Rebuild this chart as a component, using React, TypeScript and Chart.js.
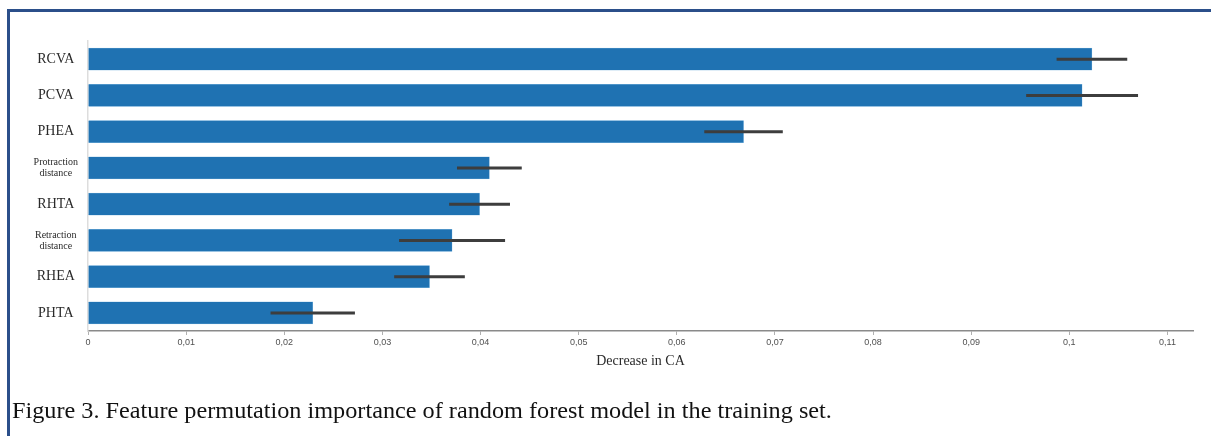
import React, { useEffect, useRef } from "react";
import { Chart, registerables } from "chart.js";

Chart.register(...registerables);

const categories: (string | string[])[] = [
  "RCVA",
  "PCVA",
  "PHEA",
  ["Protraction", "distance"],
  "RHTA",
  ["Retraction", "distance"],
  "RHEA",
  "PHTA",
];
const importance = [0.1023, 0.1013, 0.0668, 0.0409, 0.0399, 0.0371, 0.0348, 0.0229];
const importanceStd = [0.0036, 0.0057, 0.0040, 0.0033, 0.0031, 0.0054, 0.0036, 0.0043];
const xTickStep = 0.01;
const xMax = 0.1126;
const axisTitle = "Decrease in CA";
const caption = "Figure 3. Feature permutation importance of random forest model in the training set.";

const errorBarPlugin = {
  id: "errorBars",
  afterDatasetsDraw(chart: any) {
    const meta = chart.getDatasetMeta(0);
    const xScale = chart.scales.x;
    const ctx = chart.ctx;
    ctx.save();
    ctx.strokeStyle = "#3d3d3d";
    ctx.lineWidth = 3;
    meta.data.forEach((bar: any, i: number) => {
      const v = importance[i];
      const e = importanceStd[i];
      const x0 = xScale.getPixelForValue(v - e);
      const x1 = xScale.getPixelForValue(v + e);
      ctx.beginPath();
      ctx.moveTo(x0, bar.y);
      ctx.lineTo(x1, bar.y);
      ctx.stroke();
    });
    ctx.restore();
  },
};

function formatTick(v: number): string {
  if (Math.abs(v) < 1e-9) return "0";
  return String(parseFloat(v.toFixed(2))).replace(".", ",");
}

export default function App() {
  const canvasRef = useRef<HTMLCanvasElement>(null);

  useEffect(() => {
    if (!canvasRef.current) return;
    const chart = new Chart(canvasRef.current, {
      type: "bar",
      data: {
        labels: categories as any,
        datasets: [
          {
            data: importance,
            backgroundColor: "#1f72b2",
            borderColor: "#7fb6df",
            borderWidth: 0.5,
            barThickness: 22,
          },
        ],
      },
      options: {
        indexAxis: "y",
        responsive: false,
        maintainAspectRatio: false,
        animation: false,
        layout: { padding: { top: 41, right: 18, bottom: 62, left: 0 } },
        plugins: {
          legend: { display: false },
          tooltip: { enabled: false },
        },
        scales: {
          x: {
            type: "linear",
            min: 0,
            max: xMax,
            afterFit: (s: any) => {
              s.height = 43;
            },
            border: { display: true, color: "#8a8a8a", width: 1.5 },
            grid: { drawOnChartArea: false, drawTicks: true, tickLength: 4, color: "#b0b0b0" },
            ticks: {
              stepSize: xTickStep,
              includeBounds: false,
              autoSkip: false,
              maxRotation: 0,
              padding: 2,
              color: "#505050",
              font: { family: "'Liberation Sans', Arial, sans-serif", size: 9 },
              callback: (v: any) => formatTick(Number(v)),
            },
            title: {
              display: true,
              text: axisTitle,
              color: "#2a2a2a",
              font: { family: "'Liberation Serif', 'Times New Roman', serif", size: 14 },
              padding: { top: 4, bottom: 4 },
            },
          },
          y: {
            afterFit: (s: any) => {
              s.width = 88;
            },
            border: { display: true, color: "#dddddd", width: 1.5 },
            grid: { display: false, drawTicks: false },
            ticks: {
              crossAlign: "center",
              padding: 10,
              color: "#2a2a2a",
              autoSkip: false,
              font: (ctx: any) => {
                const lbl = categories[ctx.index];
                return Array.isArray(lbl)
                  ? { family: "'Liberation Serif', 'Times New Roman', serif", size: 10, lineHeight: 1.1 }
                  : { family: "'Liberation Serif', 'Times New Roman', serif", size: 14 };
              },
            },
          },
        },
      },
      plugins: [errorBarPlugin],
    } as any);
    return () => chart.destroy();
  }, []);

  return (
    <div style={{ position: "fixed", left: 0, top: 0, width: 1211, height: 436, background: "#ffffff", overflow: "hidden" }}>
      <div
        style={{
          position: "absolute",
          left: 7,
          top: 9,
          width: 1210,
          height: 440,
          borderTop: "3px solid #2b4f8a",
          borderLeft: "3px solid #2b4f8a",
        }}
      />
      <canvas ref={canvasRef} width={1211} height={436} style={{ position: "absolute", left: 0, top: 0, display: "block" }} />
      <div
        style={{
          position: "absolute",
          left: 12,
          top: 398,
          fontFamily: "'Liberation Serif', 'Times New Roman', serif",
          fontSize: 24,
          color: "#111111",
          whiteSpace: "nowrap",
          lineHeight: "24px",
          transform: "scaleX(1.01)",
          transformOrigin: "left top",
        }}
      >
        {caption}
      </div>
    </div>
  );
}
